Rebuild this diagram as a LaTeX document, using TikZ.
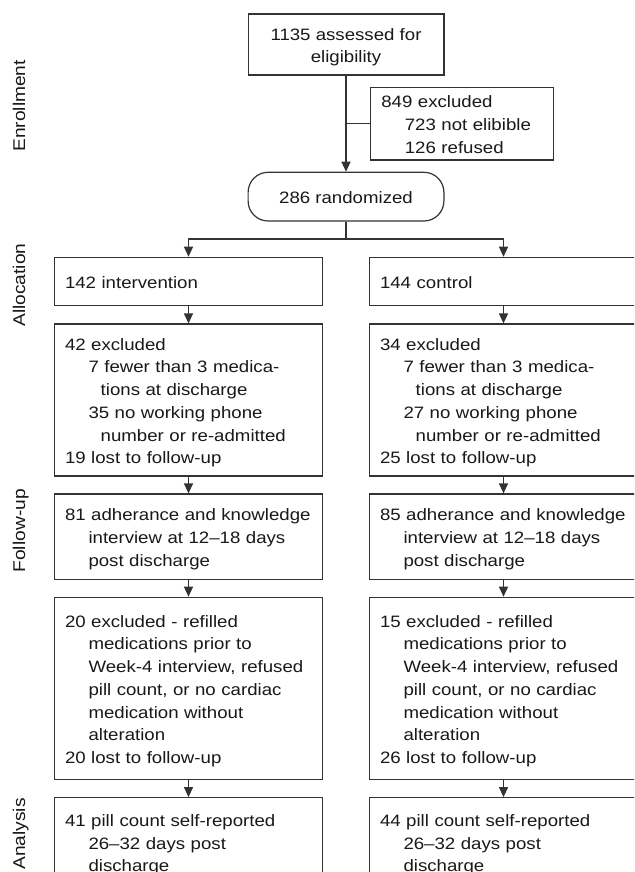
\documentclass[tikz,border=0pt]{standalone}
\usepackage{fontspec}
\setmainfont{Liberation Sans}[FakeStretch=1.13]
\usetikzlibrary{arrows.meta}
\newcommand\indA{\hspace*{23.5pt}}
\newcommand\indB{\hspace*{35.7pt}}
\newcommand\sx{\rule[-3.5pt]{0pt}{21pt}}
\tikzset{
  box/.style={draw=black!80, line width=1.2pt, rectangle, inner xsep=10.5pt, inner ysep=0pt,
    align=left, font=\fontsize{16.5}{22.7}\selectfont, text=black!90},
  colbox/.style={box, text width=247pt, minimum height=#1},
  ln/.style={line width=1.2pt, draw=black!80},
  arr/.style={ln, -{Triangle[length=10pt,width=9pt]}},
  lab/.style={rotate=90, anchor=base, text=black!90, font=\fontsize{17}{20}\selectfont},
}
\begin{document}
\begin{tikzpicture}[x=1pt,y=-1pt]
\useasboundingbox (0,0) rectangle (634,872);
\clip (0,0) rectangle (634,872);
\fill[white] (0,0) rectangle (634,872);

% phase labels
\node[lab] (lEnr) at (25,105.9) {Enrollment};
\node[lab] (lAll) at (25,285) {Allocation};
\node[lab] (lFol) at (25,530.8) {Follow-up};
\node[lab] (lAna) at (25,834) {Analysis};

% enrollment
\node[box, align=center, minimum width=195.8pt, minimum height=61pt] (top) at (346,44.5)
  {\sx 1135 assessed for\\eligibility\sx};
\node[box, text width=161.3pt, minimum height=72.7pt] (excl) at (462,123.65)
  {\sx 849 excluded\\\indA 723 not elibible\\\indA 126 refused\sx};
\node[box, align=center, minimum width=195.8pt, minimum height=48.7pt, rounded corners=20pt] (rand) at (346,196.65)
  {\sx 286 randomized};

% allocation
\node[colbox=48.4pt] (alL) at (188.5,281.5) {\sx 142 intervention};
\node[colbox=48.4pt] (alR) at (503.5,281.5) {\sx 144 control};

\node[colbox=152pt] (exL) at (188.5,400)
  {\sx 42 excluded\\\indA 7 fewer than 3 medica-\\\indB tions at discharge\\\indA 35 no working phone\\\indB number or re-admitted\\19 lost to follow-up\sx};
\node[colbox=152pt] (exR) at (503.5,400)
  {\sx 34 excluded\\\indA 7 fewer than 3 medica-\\\indB tions at discharge\\\indA 27 no working phone\\\indB number or re-admitted\\25 lost to follow-up\sx};

% follow-up
\node[colbox=85.3pt] (fuL) at (188.5,536.65)
  {\sx 81 adherance and knowledge\\\indA interview at 12–18 days\\\indA post discharge\sx};
\node[colbox=85.3pt] (fuR) at (503.5,536.65)
  {\sx 85 adherance and knowledge\\\indA interview at 12–18 days\\\indA post discharge\sx};

\node[colbox=182pt] (e2L) at (188.5,688.3)
  {\sx 20 excluded - refilled\\\indA medications prior to\\\indA Week-4 interview, refused\\\indA pill count, or no cardiac\\\indA medication without\\\indA alteration\\20 lost to follow-up\sx};
\node[colbox=182pt] (e2R) at (503.5,688.3)
  {\sx 15 excluded - refilled\\\indA medications prior to\\\indA Week-4 interview, refused\\\indA pill count, or no cardiac\\\indA medication without\\\indA alteration\\26 lost to follow-up\sx};

% analysis
\node[colbox=89pt] (anL) at (188.5,842.2)
  {\sx 41 pill count self-reported\\\indA 26–32 days post\\\indA discharge\sx};
\node[colbox=89pt] (anR) at (503.5,842.2)
  {\sx 44 pill count self-reported\\\indA 26–32 days post\\\indA discharge\sx};

% connectors
\draw[arr] (top) -- (rand);
\draw[ln] (excl.west) -- (excl.west -| top.south);
\coordinate (split) at (346,239);
\draw[ln] (rand.south) -- (split);
\draw[ln, {Triangle[length=10pt,width=9pt]}-{Triangle[length=10pt,width=9pt]}]
  (alL.north) -- (alL.north |- split) -- (alR.north |- split) -- (alR.north);
\draw[arr] (alL) -- (exL);
\draw[arr] (alR) -- (exR);
\draw[arr] (exL) -- (fuL);
\draw[arr] (exR) -- (fuR);
\draw[arr] (fuL) -- (e2L);
\draw[arr] (fuR) -- (e2R);
\draw[arr] (e2L) -- (anL);
\draw[arr] (e2R) -- (anR);
\end{tikzpicture}
\end{document}
